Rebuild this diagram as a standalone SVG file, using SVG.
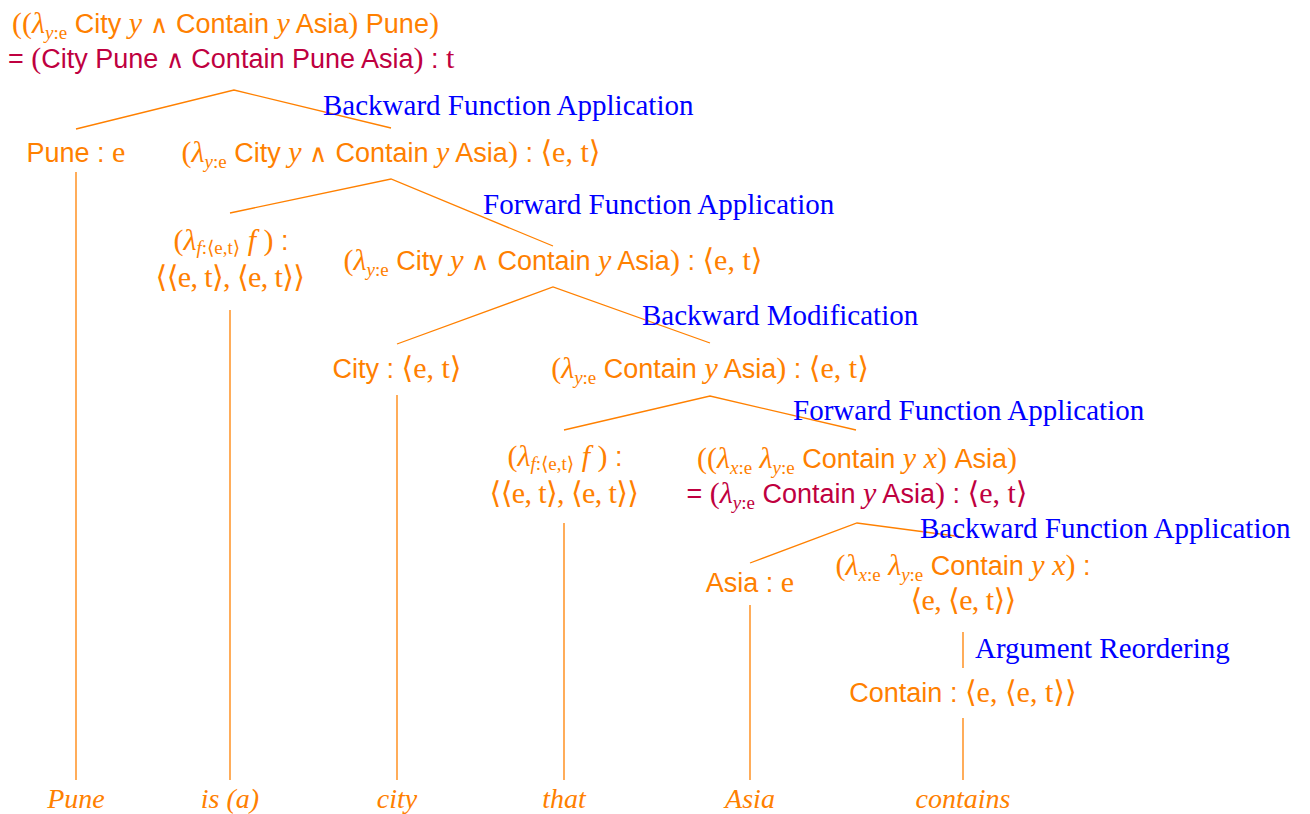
<svg xmlns="http://www.w3.org/2000/svg" width="1310" height="814" viewBox="0 0 1310 814">
<style>
text{font-size:27px}
.o{fill:#FF8000}
.p{fill:#BF0040}
.b{fill:#0000FF;font-family:"Liberation Serif","DejaVu Serif",serif;font-size:29px}
.s{font-family:"Liberation Sans",Arial,sans-serif;font-size:27px}
.r{font-family:"Liberation Serif","DejaVu Serif",serif;font-size:30px}
.i{font-style:italic}
.w{font-family:"DejaVu Sans",sans-serif;font-size:25px;font-weight:200}
.sub{font-size:19px}
.fs{font-size:19px}
.leaf{fill:#FF8000;font-family:"Liberation Serif","DejaVu Serif",serif;font-style:italic;font-size:28px}
.e{stroke:#FF8000;stroke-width:1.3;fill:none}
</style>
<g id="connectors">
<polyline class="e" points="76,129 234,90 391,128"/>
<polyline class="e" points="230,213 391,179 553,246"/>
<polyline class="e" points="397,344 553,287 710,343"/>
<polyline class="e" points="564,430 710,396 856,430"/>
<polyline class="e" points="750,563 857,523 963,537"/>
<line class="e" x1="963" y1="632" x2="963" y2="668"/>
<line class="e" x1="76" y1="172" x2="76" y2="780"/>
<line class="e" x1="230" y1="310" x2="230" y2="780"/>
<line class="e" x1="397" y1="395" x2="397" y2="780"/>
<line class="e" x1="564" y1="523" x2="564" y2="780"/>
<line class="e" x1="750" y1="605" x2="750" y2="780"/>
<line class="e" x1="963" y1="718" x2="963" y2="780"/>
</g>
<g id="root">
<text x="12" y="33" class="o"><tspan class="r">((</tspan><tspan class="r i">λ</tspan><tspan class="r sub" dy="6"><tspan class="i">y</tspan>:e</tspan><tspan class="s" dy="-6"> City </tspan><tspan class="r i">y</tspan><tspan class="w"> ∧ </tspan><tspan class="s">Contain </tspan><tspan class="r i">y</tspan><tspan class="s"> Asia</tspan><tspan class="r">)</tspan><tspan class="s"> Pune</tspan><tspan class="r">)</tspan></text>
<text x="8" y="68" class="p"><tspan class="s">= </tspan><tspan class="r">(</tspan><tspan class="s">City Pune </tspan><tspan class="w">∧</tspan><tspan class="s"> Contain Pune Asia</tspan><tspan class="r">)</tspan><tspan class="s"> : </tspan><tspan class="r">t</tspan></text>
<text x="323" y="115" class="b">Backward Function Application</text>
</g>
<g id="n_pune">
<text x="76" y="162" class="o" text-anchor="middle"><tspan class="s">Pune : </tspan><tspan class="r">e</tspan></text>
</g>
<g id="n_vp">
<text x="391" y="162" class="o" text-anchor="middle"><tspan class="r">(</tspan><tspan class="r i">λ</tspan><tspan class="r sub" dy="6"><tspan class="i">y</tspan>:e</tspan><tspan class="s" dy="-6"> City </tspan><tspan class="r i">y</tspan><tspan class="w"> ∧ </tspan><tspan class="s">Contain </tspan><tspan class="r i">y</tspan><tspan class="s"> Asia</tspan><tspan class="r">)</tspan><tspan class="s"> : </tspan><tspan class="r">⟨e, t⟩</tspan></text>
<text x="483" y="214" class="b">Forward Function Application</text>
</g>
<g id="n_is">
<text x="231" y="250" class="o" text-anchor="middle"><tspan class="r">(</tspan><tspan class="r i">λ</tspan><tspan class="r fs" dy="4"><tspan class="i">f</tspan>:⟨e,t⟩</tspan><tspan class="r i" dy="-4">  f</tspan><tspan class="r"> )</tspan><tspan class="s"> :</tspan></text>
<text x="230" y="287" class="o r" text-anchor="middle" letter-spacing="-0.6">⟨⟨e, t⟩, ⟨e, t⟩⟩</text>
</g>
<g id="n_np">
<text x="553" y="270" class="o" text-anchor="middle"><tspan class="r">(</tspan><tspan class="r i">λ</tspan><tspan class="r sub" dy="6"><tspan class="i">y</tspan>:e</tspan><tspan class="s" dy="-6"> City </tspan><tspan class="r i">y</tspan><tspan class="w"> ∧ </tspan><tspan class="s">Contain </tspan><tspan class="r i">y</tspan><tspan class="s"> Asia</tspan><tspan class="r">)</tspan><tspan class="s"> : </tspan><tspan class="r">⟨e, t⟩</tspan></text>
<text x="642" y="325" class="b">Backward Modification</text>
</g>
<g id="n_city">
<text x="397" y="378" class="o" text-anchor="middle"><tspan class="s">City : </tspan><tspan class="r">⟨e, t⟩</tspan></text>
</g>
<g id="n_rel">
<text x="710" y="378" class="o" text-anchor="middle"><tspan class="r">(</tspan><tspan class="r i">λ</tspan><tspan class="r sub" dy="6"><tspan class="i">y</tspan>:e</tspan><tspan class="s" dy="-6"> Contain </tspan><tspan class="r i">y</tspan><tspan class="s"> Asia</tspan><tspan class="r">)</tspan><tspan class="s"> : </tspan><tspan class="r">⟨e, t⟩</tspan></text>
<text x="793" y="420" class="b">Forward Function Application</text>
</g>
<g id="n_that">
<text x="565" y="466" class="o" text-anchor="middle"><tspan class="r">(</tspan><tspan class="r i">λ</tspan><tspan class="r fs" dy="4"><tspan class="i">f</tspan>:⟨e,t⟩</tspan><tspan class="r i" dy="-4">  f</tspan><tspan class="r"> )</tspan><tspan class="s"> :</tspan></text>
<text x="564" y="503" class="o r" text-anchor="middle" letter-spacing="-0.6">⟨⟨e, t⟩, ⟨e, t⟩⟩</text>
</g>
<g id="n_vp2">
<text x="857" y="468" class="o" text-anchor="middle"><tspan class="r">((</tspan><tspan class="r i">λ</tspan><tspan class="r sub" dy="6"><tspan class="i">x</tspan>:e</tspan><tspan class="r i" dy="-6"> λ</tspan><tspan class="r sub" dy="6"><tspan class="i">y</tspan>:e</tspan><tspan class="s" dy="-6"> Contain </tspan><tspan class="r i">y x</tspan><tspan class="r">)</tspan><tspan class="s"> Asia</tspan><tspan class="r">)</tspan></text>
<text x="857" y="503" class="p" text-anchor="middle"><tspan class="s">= </tspan><tspan class="r">(</tspan><tspan class="r i">λ</tspan><tspan class="r sub" dy="6"><tspan class="i">y</tspan>:e</tspan><tspan class="s" dy="-6"> Contain </tspan><tspan class="r i">y</tspan><tspan class="s"> Asia</tspan><tspan class="r">)</tspan><tspan class="s"> : </tspan><tspan class="r">⟨e, t⟩</tspan></text>
<text x="920" y="538" class="b">Backward Function Application</text>
</g>
<g id="n_asia">
<text x="750" y="592" class="o" text-anchor="middle"><tspan class="s">Asia : </tspan><tspan class="r">e</tspan></text>
</g>
<g id="n_contains2">
<text x="963" y="575" class="o" text-anchor="middle"><tspan class="r">(</tspan><tspan class="r i">λ</tspan><tspan class="r sub" dy="6"><tspan class="i">x</tspan>:e</tspan><tspan class="r i" dy="-6"> λ</tspan><tspan class="r sub" dy="6"><tspan class="i">y</tspan>:e</tspan><tspan class="s" dy="-6"> Contain </tspan><tspan class="r i">y x</tspan><tspan class="r">)</tspan><tspan class="s"> :</tspan></text>
<text x="963" y="610" class="o r" text-anchor="middle" letter-spacing="-0.6">⟨e, ⟨e, t⟩⟩</text>
<text x="975" y="658" class="b">Argument Reordering</text>
</g>
<g id="n_contain">
<text x="963" y="702" class="o" text-anchor="middle"><tspan class="s">Contain : </tspan><tspan class="r">⟨e, ⟨e, t⟩⟩</tspan></text>
</g>
<g id="leaves">
<text x="76" y="808" class="leaf" text-anchor="middle">Pune</text>
<text x="230" y="808" class="leaf" text-anchor="middle">is (a)</text>
<text x="397" y="808" class="leaf" text-anchor="middle">city</text>
<text x="564" y="808" class="leaf" text-anchor="middle">that</text>
<text x="750" y="808" class="leaf" text-anchor="middle">Asia</text>
<text x="963" y="808" class="leaf" text-anchor="middle">contains</text>
</g>
</svg>
